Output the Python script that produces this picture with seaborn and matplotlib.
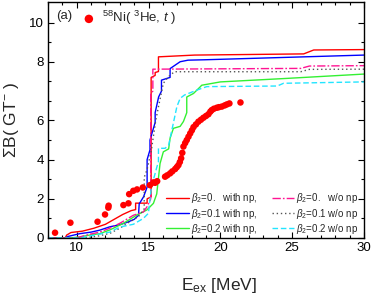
import numpy as np
import pandas as pd
import matplotlib
matplotlib.use("Agg")
import matplotlib.pyplot as plt
import seaborn as sns
from matplotlib.ticker import FixedLocator, MultipleLocator

# ---------------- data ----------------
exp_x = [8.49, 9.56, 11.45, 11.97, 12.2, 12.22, 13.25, 13.6, 13.65, 13.94, 14.2, 14.6,
         15.1, 15.34, 15.46, 15.6, 16.15, 16.3, 16.5, 16.65, 16.85, 16.97, 17.08, 17.18,
         17.27, 17.35, 17.43, 17.55, 17.66, 17.78, 17.9, 18.02, 18.13, 18.3, 18.47, 18.65,
         18.82, 19.0, 19.17, 19.3, 19.4, 19.55, 19.75, 19.9, 20.1, 20.3, 20.45, 20.63, 21.4]
exp_y = [0.27, 0.78, 0.83, 1.2, 1.55, 1.65, 1.68, 1.77, 2.24, 2.41, 2.48, 2.58,
         2.7, 2.84, 2.82, 2.9, 3.13, 3.2, 3.3, 3.4, 3.52, 3.62, 3.72, 3.88,
         4.07, 4.35, 4.67, 4.85, 5.0, 5.17, 5.34, 5.5, 5.66, 5.8, 5.94, 6.04,
         6.14, 6.23, 6.32, 6.45, 6.53, 6.6, 6.65, 6.68, 6.71, 6.77, 6.82, 6.87, 6.92]

b0_np_x = [8.0, 9.2, 9.3, 9.6, 10.4, 11.2, 12.0, 12.6, 13.2, 13.8, 14.1, 14.1, 14.9, 14.9,
           15.18, 15.18, 15.46, 15.46, 15.69, 15.69, 18.2, 25.8, 26.5, 30.0]
b0_np_y = [0.0, 0.0, 0.15, 0.28, 0.35, 0.5, 0.7, 0.95, 1.2, 1.4, 1.45, 1.78, 1.78, 2.0,
           2.1, 8.2, 8.3, 8.45, 8.5, 9.25, 9.34, 9.4, 9.6, 9.62]

b1_np_x = [8.0, 9.2, 9.4, 10.2, 11.0, 11.6, 12.3, 13.0, 13.5, 14.0, 14.3, 14.35, 14.4, 14.65,
           14.9, 14.9, 15.1, 15.1, 15.3, 15.46, 15.46, 15.7, 15.9, 15.9, 16.5, 16.5, 17.2,
           17.75, 18.9, 30.0]
b1_np_y = [0.0, 0.0, 0.08, 0.22, 0.3, 0.4, 0.57, 0.68, 0.8, 0.95, 1.16, 1.75, 1.8, 2.1,
           2.6, 4.0, 4.5, 5.0, 5.5, 5.9, 6.4, 7.2, 7.5, 8.06, 8.2, 8.65, 9.0,
           9.08, 9.1, 9.34]

b2_np_x = [8.0, 9.5, 10.2, 10.9, 11.6, 12.3, 13.25, 14.18, 14.88, 15.34, 15.57, 15.8, 16.03,
           16.4, 16.5, 16.73, 17.2, 17.43, 17.66, 17.66, 18.13, 18.6, 18.7, 20.0, 24.65, 30.0]
b2_np_y = [0.0, 0.0, 0.05, 0.15, 0.22, 0.41, 0.75, 1.17, 1.43, 1.77, 2.25, 3.8, 4.4,
           4.55, 5.1, 5.6, 5.7, 5.95, 6.4, 7.2, 7.38, 7.72, 7.8, 7.97, 8.15, 8.37]

b0_wo_x = [8.0, 9.8, 10.2, 10.9, 11.6, 12.3, 13.0, 13.94, 14.64, 14.88, 15.1, 15.15, 15.15,
           15.3, 15.3, 25.6, 26.2, 30.0]
b0_wo_y = [0.0, 0.0, 0.05, 0.19, 0.3, 0.5, 0.75, 1.16, 1.33, 1.58, 1.9, 2.0, 7.38,
           7.5, 8.62, 8.66, 8.78, 8.8]

b1_wo_x = [8.0, 10.5, 11.5, 12.32, 13.0, 13.7, 14.3, 14.7, 14.7, 14.9, 15.2, 15.5, 15.69,
           16.03, 16.38, 16.8, 25.6, 26.2, 30.0]
b1_wo_y = [0.0, 0.0, 0.1, 0.24, 0.5, 0.83, 1.09, 1.5, 3.1, 3.5, 4.5, 6.0, 6.7,
           7.9, 8.23, 8.49, 8.49, 8.61, 8.62]

b2_wo_x = [8.0, 10.2, 10.9, 12.3, 13.0, 13.94, 14.64, 14.99, 15.2, 15.57, 15.69, 15.69, 16.15,
           16.4, 16.97, 17.2, 17.5, 18.36, 18.7, 19.06, 23.96, 24.4, 30.0]
b2_wo_y = [0.0, 0.0, 0.1, 0.3, 0.56, 0.7, 1.0, 1.26, 2.6, 3.6, 3.9, 4.58, 4.58,
           4.74, 6.7, 7.13, 7.3, 7.55, 7.64, 7.73, 7.76, 7.9, 7.97]

series_labels = [r"$\beta_2$=0.   with np,", r"$\beta_2$=0.1 with np,", r"$\beta_2$=0.2 with np,",
                 r"$\beta_2$=0.   w/o np", r"$\beta_2$=0.1 w/o np", r"$\beta_2$=0.2 w/o np"]

y_tick_pos = [0, 2, 4, 6, 9, 11]
y_tick_text = ["0", "2", "4", "6", "8", "10"]
x_ticks = [10, 15, 20, 25, 30]

# ---------------- plotting ----------------
sns.set_theme(style="ticks")
plt.rcParams['font.family'] = ['Liberation Sans', 'DejaVu Sans']
plt.rcParams['mathtext.fontset'] = 'custom'
plt.rcParams['mathtext.rm'] = 'Liberation Sans'
plt.rcParams['mathtext.it'] = 'Liberation Sans:italic'

fig = plt.figure(figsize=(3.74, 2.94), dpi=100)
ax = fig.add_axes([48/374, 1-238/294, (364-48)/374, (238-2)/294])

series = [(b0_np_x, b0_np_y, "#ff0000", None),
          (b1_np_x, b1_np_y, "#0000ff", None),
          (b2_np_x, b2_np_y, "#33f033", None),
          (b0_wo_x, b0_wo_y, "#ff1493", (6, 1.5, 1.2, 1.5)),
          (b1_wo_x, b1_wo_y, "#555555", (1, 2)),
          (b2_wo_x, b2_wo_y, "#22e5ff", (4, 2))]

handles = []
for (xs, ys, col, dash), lab in zip(series, series_labels):
    df = pd.DataFrame({"x": xs, "y": ys})
    sns.lineplot(data=df, x="x", y="y", sort=False, estimator=None, color=col,
                 linewidth=1.0, ax=ax, label=lab)
    ln = ax.lines[-1]
    if dash is not None:
        ln.set_dashes(dash)
    handles.append(ln)

exp_df = pd.DataFrame({"x": exp_x, "y": exp_y})
sns.scatterplot(data=exp_df, x="x", y="y", color="#ff0000", s=22, edgecolor="none",
                ax=ax, zorder=5, label="exp")
sc = ax.collections[-1]

ax.set_xlim(8, 30)
ax.set_ylim(0, 12.05)
ax.xaxis.set_major_locator(FixedLocator(x_ticks))
ax.xaxis.set_minor_locator(MultipleLocator(1))
ax.yaxis.set_major_locator(FixedLocator(y_tick_pos))
ax.set_yticklabels(y_tick_text)
ax.yaxis.set_minor_locator(FixedLocator([1, 3, 5, 7, 8, 10]))
ax.tick_params(which="both", direction="in", top=True, right=True, labelsize=9.5,
               width=0.8, colors="black", pad=3)
ax.tick_params(which="major", length=4)
ax.tick_params(which="minor", length=2.5)
for s in ax.spines.values():
    s.set_linewidth(1.0)
    s.set_color("black")

ax.set_xlabel(r"E$_{\rm ex}$ [MeV]", fontsize=12.5, labelpad=12)
ax.xaxis.set_label_coords(0.54, -0.16)
ax.set_ylabel(r"$\Sigma$B( GT$^{-}$ )", fontsize=12.5, labelpad=6)

leg1 = ax.legend(handles=handles, labels=series_labels, ncol=2, loc="lower right",
                 bbox_to_anchor=(1.0, -0.015), frameon=False, fontsize=7,
                 handlelength=2.3, handletextpad=0.2, columnspacing=1.5,
                 labelspacing=0.12, borderaxespad=0.2)
ax.add_artist(leg1)
ax.legend(handles=[sc], labels=[r"$^{58}$Ni( $^{3}$He, $t$ )"], loc="upper left",
          bbox_to_anchor=(0.05, 1.02), frameon=False, fontsize=9.5,
          handletextpad=0.0, markerscale=1.3)
ax.text(0.025, 0.965, "(a)", transform=ax.transAxes, fontsize=9.5, va="top", ha="left")

fig.savefig("out.png", dpi=100)
